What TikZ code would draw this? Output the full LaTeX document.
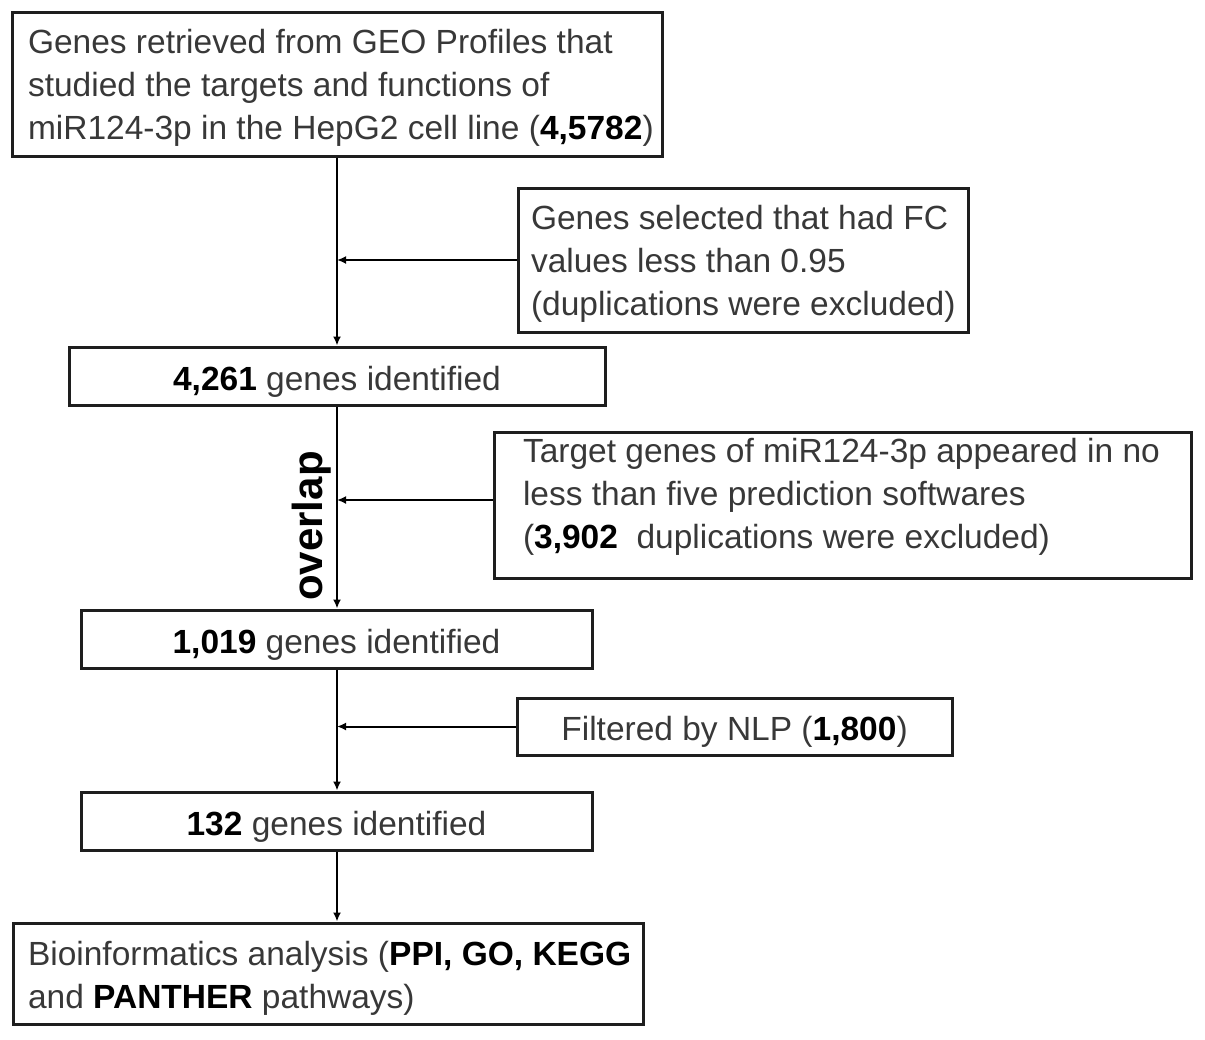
\documentclass[tikz,border=0pt]{standalone}
\usepackage{fontspec}
\setmainfont{Liberation Sans}
\newfontfamily\ovfont{Liberation Sans}
\usetikzlibrary{arrows.meta}
\definecolor{txtgray}{HTML}{383838}
\definecolor{boxline}{HTML}{1E1E1E}
\tikzset{
  box/.style={draw=boxline, line width=1.5pt, rectangle, inner ysep=0pt,
    text=txtgray, font=\fontsize{16.75}{21.5}\selectfont},
  lbox/.style={box, align=flush left},
  cbox/.style={box, align=center, text height=17pt, text depth=3pt},
  conn/.style={draw=black, line width=1pt, -{Latex[length=4.5pt,width=4pt]}},
}
\newcommand{\bnum}[1]{\textcolor{black}{\textbf{#1}}}
\newcommand{\tstrut}[1]{\rule{0pt}{#1}}
\begin{document}
\begin{tikzpicture}[x=0.5pt,y=-0.5pt]
\useasboundingbox (0,0) rectangle (1205,1039);
% main boxes
\node[lbox, minimum width=325pt, minimum height=72pt, text width=309pt, inner xsep=8pt] (b1) at (337,84)
  {\mbox{\tstrut{15.5pt}Genes retrieved from GEO Profiles that}\\
   \mbox{studied the targets and functions of}\\
   \mbox{miR124-3p in the HepG2 cell line (\bnum{4,5782})}};
\node[lbox, minimum width=225pt, minimum height=72pt, text width=212pt, inner xsep=6.5pt] (sel) at (743,260)
  {\mbox{\tstrut{15.5pt}Genes selected that had FC}\\
   \mbox{values less than 0.95}\\
   \mbox{(duplications were excluded)}};
\node[cbox, minimum width=268pt, minimum height=29pt] (b2) at (337,376)
  {\bnum{4,261} genes identified};
\node[lbox, minimum width=348.5pt, minimum height=73pt, text width=319.5pt, inner xsep=14.5pt] (tgt) at (842.5,505)
  {\mbox{\tstrut{15pt}Target genes of miR124-3p appeared in no}\\
   \mbox{less than five prediction softwares}\\
   \mbox{(\bnum{3,902}\ \ duplications were excluded)}\rule[-14.5pt]{0pt}{0pt}};
\node[cbox, minimum width=255.5pt, minimum height=29pt] (b3) at (336.5,639)
  {\bnum{1,019} genes identified};
\node[cbox, minimum width=217.5pt, minimum height=28.5pt] (nlp) at (734.5,726.5)
  {Filtered by NLP (\bnum{1,800})};
\node[cbox, minimum width=255.5pt, minimum height=29pt] (b4) at (336.5,821)
  {\bnum{132} genes identified};
\node[lbox, minimum width=315pt, minimum height=50.5pt, text width=300pt, inner xsep=7.5pt] (b5) at (328,973.5)
  {\mbox{\tstrut{17pt}Bioinformatics analysis (\bnum{PPI, GO, KEGG}}\\
   \mbox{and \bnum{PANTHER} pathways)}};
% overlap label
\node[rotate=90, anchor=base, inner sep=0pt, font=\ovfont\bfseries\fontsize{21}{25}\selectfont] (ov) at (322,526) {overlap};
% connectors
\draw[conn] (b1.south) -- (b1.south |- b2.north);
\draw[conn] (sel.west) -- (sel.west -| b1.south);
\draw[conn] (b2.south) -- (b2.south |- b3.north);
\draw[conn] ([yshift=2.5pt]tgt.west) -- ([yshift=2.5pt]tgt.west -| b2.south);
\draw[conn] (b2.south |- b3.south) -- (b2.south |- b4.north);
\draw[conn] (nlp.west) -- (nlp.west -| b2.south);
\draw[conn] (b2.south |- b4.south) -- (b2.south |- b5.north);
\end{tikzpicture}
\end{document}
